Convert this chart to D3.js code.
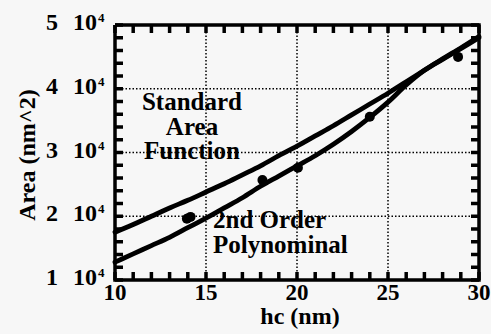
<!DOCTYPE html>
<html>
<head>
<meta charset="utf-8">
<script src="https://cdn.jsdelivr.net/npm/d3@7"></script>
<style>
  html, body { margin: 0; padding: 0; background: #f7f7f7; }
  svg { display: block; }
</style>
</head>
<body>
<svg id="chart" width="491" height="334"></svg>
<script>
// Contact depth hc (nm)
const hcGrid = [10, 11, 12, 13, 14, 15, 16, 17, 18, 19, 20, 21, 22, 23, 24, 25, 26, 27, 28, 29, 30];
// Standard area function, A (nm^2)
const areaStandard = [17500, 18700, 20000, 21300, 22500, 23800, 25100, 26500, 27900, 29500, 31000, 32600, 34200, 35900, 37600, 39300, 41100, 42900, 44700, 46400, 48200];
// 2nd order polynomial fit, A (nm^2)
const areaPoly = [12800, 14100, 15400, 16700, 18200, 19700, 21300, 22900, 24700, 26300, 27900, 29500, 31300, 33300, 35500, 37900, 40600, 42900, 44600, 46300, 48000];
// Measured points
const hcMeasured = [13.95, 14.15, 18.1, 20.05, 24.0, 28.85];
const areaMeasured = [19600, 19900, 25700, 27600, 35600, 45000];

const xTicks = [10, 15, 20, 25, 30];
const yTicks = [10000, 20000, 30000, 40000, 50000];
const yTickMantissa = ["1", "2", "3", "4", "5"];

const FONT = "'Liberation Serif', 'Times New Roman', serif";

const svg = d3.select("#chart");
const plotLeft = 115, plotRight = 479, plotTop = 25, plotBottom = 280;

const x = d3.scaleLinear().domain([10, 30]).range([plotLeft, plotRight]);
const y = d3.scaleLinear().domain([10000, 50000]).range([plotBottom, plotTop]);

const seg = d3.line().x(d => d[0]).y(d => d[1]);

// dotted grid at the inner major ticks
const gridSegs = [
  ...xTicks.slice(1, -1).map(v => [[x(v), plotTop], [x(v), plotBottom]]),
  ...yTicks.slice(1, -1).map(v => [[plotLeft, y(v)], [plotRight, y(v)]])
];
svg.append("g").selectAll("path").data(gridSegs).join("path")
  .attr("d", seg).attr("fill", "none").attr("stroke", "#000")
  .attr("stroke-width", 1.5).attr("stroke-dasharray", "1.5,2");

// inward ticks on all four sides
const tickLen = 8;
const xMinor = d3.range(10, 30.001, 1);
const yMinor = d3.range(10000, 50001, 2000);
const tickSegs = [
  ...xMinor.map(v => [[x(v), plotBottom], [x(v), plotBottom - tickLen]]),
  ...xMinor.map(v => [[x(v), plotTop], [x(v), plotTop + tickLen]]),
  ...yMinor.map(v => [[plotLeft, y(v)], [plotLeft + tickLen, y(v)]]),
  ...yMinor.map(v => [[plotRight, y(v)], [plotRight - tickLen, y(v)]])
];
svg.append("g").selectAll("path").data(tickSegs).join("path")
  .attr("d", seg).attr("fill", "none").attr("stroke", "#000").attr("stroke-width", 3.5);

// frame
svg.append("path")
  .datum([[plotLeft, plotTop], [plotRight, plotTop], [plotRight, plotBottom], [plotLeft, plotBottom], [plotLeft, plotTop]])
  .attr("d", seg).attr("fill", "none").attr("stroke", "#000").attr("stroke-width", 3.5);

// curves
const line = d3.line().x(d => x(d[0])).y(d => y(d[1])).curve(d3.curveMonotoneX);
svg.append("path").datum(hcGrid.map((h, i) => [h, areaStandard[i]]))
  .attr("d", line).attr("fill", "none").attr("stroke", "#000").attr("stroke-width", 4.8).attr("stroke-linecap", "round");
svg.append("path").datum(hcGrid.map((h, i) => [h, areaPoly[i]]))
  .attr("d", line).attr("fill", "none").attr("stroke", "#000").attr("stroke-width", 4.8).attr("stroke-linecap", "round");

// measured points
svg.append("g").selectAll("circle").data(hcMeasured.map((h, i) => [h, areaMeasured[i]]))
  .join("circle").attr("cx", d => x(d[0])).attr("cy", d => y(d[1])).attr("r", 5).attr("fill", "#000");

const txt = svg.append("g").attr("font-family", FONT).attr("font-weight", "bold").attr("fill", "#000");

// x tick labels
txt.append("g").selectAll("text").data(xTicks).join("text")
  .attr("x", d => x(d)).attr("y", 300).attr("text-anchor", "middle").attr("font-size", 23)
  .text(d => d);

// y tick labels: "n 10^4"
const yLab = txt.append("g").selectAll("g").data(yTicks).join("g")
  .attr("transform", d => `translate(0,${y(d) + 5})`);
yLab.append("text").attr("x", 52).attr("text-anchor", "middle").attr("font-size", 24)
  .text((d, i) => yTickMantissa[i]);
yLab.append("text").attr("x", 73).attr("font-size", 24).text("10");
yLab.append("text").attr("x", 98).attr("y", -8).attr("font-size", 13).text("4");

// axis titles
txt.append("text").attr("x", 300).attr("y", 324).attr("text-anchor", "middle").attr("font-size", 24).text("hc (nm)");
txt.append("text").attr("transform", "translate(35,155) rotate(-90)").attr("text-anchor", "middle")
  .attr("font-size", 24).text("Area (nm^2)");

// in-plot annotations
const ann1 = ["Standard", "Area", "Function"];
txt.append("g").selectAll("text").data(ann1).join("text")
  .attr("x", 192).attr("y", (d, i) => 110 + i * 24.5).attr("text-anchor", "middle").attr("font-size", 25).text(d => d);
const ann2 = ["2nd Order", "Polynominal"];
txt.append("g").selectAll("text").data(ann2).join("text")
  .attr("x", 213).attr("y", (d, i) => 228 + i * 24.5).attr("font-size", 25).text(d => d);
</script>
</body>
</html>
